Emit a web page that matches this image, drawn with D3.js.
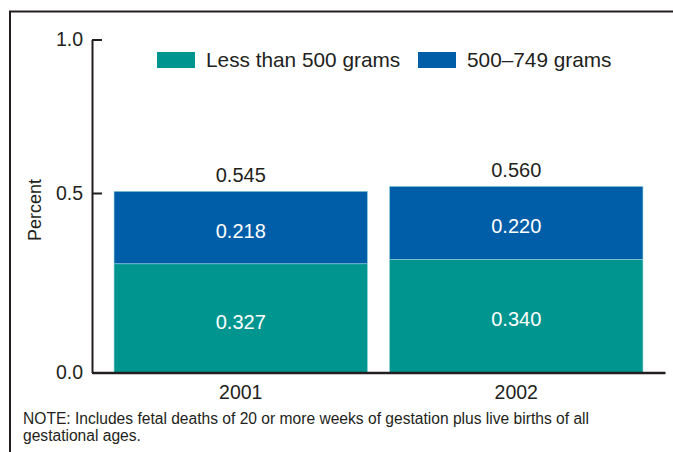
<!DOCTYPE html>
<html>
<head>
<meta charset="utf-8">
<script src="https://cdn.jsdelivr.net/npm/d3@7"></script>
<style>
  html, body { margin: 0; padding: 0; background: #fff; }
  svg { display: block; font-family: "Liberation Sans", Arial, Helvetica, sans-serif; }
</style>
</head>
<body>
<svg id="chart" width="673" height="452"></svg>
<script>
// ---- data ----
const years = ["2001", "2002"];
const seriesNames = ["Less than 500 grams", "500\u2013749 grams"];
const lessThan500 = [0.327, 0.340];
const from500to749 = [0.218, 0.220];
const totals = [0.545, 0.560];
const yTickValues = [0, 0.5, 1.0];
const yTickLabels = ["0.0", "0.5", "1.0"];
const noteLines = [
  "NOTE: Includes fetal deaths of 20 or more weeks of gestation plus live births of all",
  "gestational ages."
];

const colors = ["#00968f", "#005ea8"];
const ink = "#231f20";

const svg = d3.select("#chart");

// frame (left and top border)
svg.append("path")
  .attr("d", "M10,452 V11.5 H673")
  .attr("fill", "none").attr("stroke", ink).attr("stroke-width", 2);

const x0 = 92, x1 = 665, yBottom = 372.5;

const x = d3.scaleBand().domain(years).range([x0, x1]).paddingInner(0.08).paddingOuter(0.08);
// bar scale (linear in value)
const y = d3.scaleLinear().domain([0, 1]).range([yBottom, 40]);
// axis as labelled in the original figure
const yAxisScale = d3.scaleLinear().domain([0, 0.5, 1]).range([yBottom, 193, 39.5]);

// stacked data
const table = years.map((yr, i) => ({ year: yr, s0: lessThan500[i], s1: from500to749[i], total: totals[i] }));
const stack = d3.stack().keys(["s0", "s1"])(table);

const g = svg.append("g");
stack.forEach((layer, li) => {
  g.selectAll(null).data(layer).enter().append("rect")
    .attr("x", d => x(d.data.year))
    .attr("width", x.bandwidth())
    .attr("y", d => y(d[1]))
    .attr("height", d => y(d[0]) - y(d[1]))
    .attr("fill", colors[li])
    .attr("stroke", "#9ad3dc")
    .attr("stroke-width", 0.6);
  g.selectAll(null).data(layer).enter().append("text")
    .attr("x", d => x(d.data.year) + x.bandwidth() / 2)
    .attr("y", d => (y(d[0]) + y(d[1])) / 2 + 10.5)
    .attr("text-anchor", "middle")
    .attr("fill", "#fff")
    .attr("font-size", 20)
    .text(d => (d[1] - d[0]).toFixed(3));
});

// total labels
g.selectAll(null).data(table).enter().append("text")
  .attr("x", d => x(d.year) + x.bandwidth() / 2)
  .attr("y", d => y(d.total) - 9)
  .attr("text-anchor", "middle")
  .attr("fill", ink)
  .attr("font-size", 20)
  .text(d => d.total.toFixed(3));

// y axis
const yAxis = d3.axisLeft(yAxisScale)
  .tickValues(yTickValues)
  .tickFormat((d, i) => yTickLabels[i])
  .tickSizeInner(-10).tickSizeOuter(0).tickPadding(9);
const ya = svg.append("g").attr("transform", `translate(${x0},0)`).call(yAxis);
ya.select(".domain").attr("stroke", ink).attr("stroke-width", 2);
ya.selectAll(".tick line").attr("stroke", ink).attr("stroke-width", 2);
ya.selectAll(".tick text").attr("fill", ink).attr("font-size", 19.5)
  .attr("font-family", "Liberation Sans, Arial, sans-serif");

// x axis
const xAxis = d3.axisBottom(x).tickSize(0).tickPadding(9);
const xa = svg.append("g").attr("transform", `translate(0,${yBottom})`).call(xAxis);
xa.select(".domain").attr("stroke", ink).attr("stroke-width", 2.4);
xa.selectAll(".tick text").attr("fill", ink).attr("font-size", 19.5)
  .attr("font-family", "Liberation Sans, Arial, sans-serif")
  .attr("dy", "0.9em");

// y label
svg.append("text")
  .attr("transform", "translate(41,210) rotate(-90)")
  .attr("text-anchor", "middle")
  .attr("fill", ink)
  .attr("font-size", 18)
  .text("Percent");

// legend
const legendX = [157, 418];
seriesNames.forEach((name, i) => {
  svg.append("rect").attr("x", legendX[i]).attr("y", 52).attr("width", 38).attr("height", 16).attr("fill", colors[i]);
  svg.append("text").attr("x", legendX[i] + 49).attr("y", 67).attr("fill", ink)
    .attr("font-size", 20.8).text(name);
});

// note
svg.selectAll(null).data(noteLines).enter().append("text")
  .attr("x", 23)
  .attr("y", (d, i) => 424 + i * 17)
  .attr("fill", ink)
  .attr("font-size", 15.6)
  .text(d => d);
</script>
</body>
</html>
